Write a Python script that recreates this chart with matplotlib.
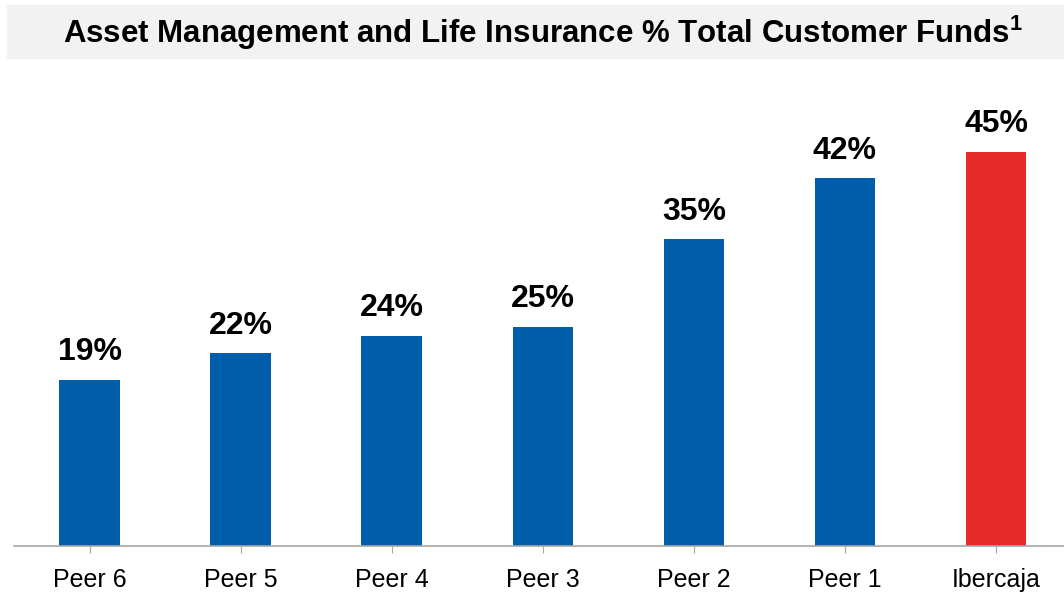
import matplotlib.pyplot as plt
from matplotlib.patches import Rectangle

plt.rcParams['font.family'] = ['Liberation Sans', 'DejaVu Sans']
plt.rcParams['mathtext.fontset'] = 'custom'
plt.rcParams['mathtext.bf'] = 'Liberation Sans:bold'

categories = ["Peer 6", "Peer 5", "Peer 4", "Peer 3", "Peer 2", "Peer 1", "Ibercaja"]
values = [19, 22, 24, 25, 35, 42, 45]
labels = ["19%", "22%", "24%", "25%", "35%", "42%", "45%"]
colors = ["#005DA9"] * 6 + ["#E52A29"]

W, H = 1064, 592
fig = plt.figure(figsize=(W / 100, H / 100), dpi=100)

# grey title band
fig.patches.append(Rectangle((7 / W, 1 - 58 / H), 1 - 7 / W, 53 / H,
                             transform=fig.transFigure, color="#F2F2F2", zorder=0))
fig.text(0.510, 1 - 33 / H, "Asset Management and Life Insurance % Total Customer Funds$^\\mathbf{1}$",
         ha="center", va="center", fontsize=22.5, fontweight="bold")

ax = fig.add_axes([14 / W, 1 - 546 / H, 1 - 14 / W, (546 - 100) / H])
x = range(len(categories))
bars = ax.bar(x, values, width=0.4, color=colors)
for xi, v, lab in zip(x, values, labels):
    ax.annotate(lab, (xi, v), xytext=(0, 9), textcoords="offset points",
                ha="center", va="bottom", fontsize=23, fontweight="bold")

ax.set_xlim(-0.5, 6.45)
ax.set_ylim(0, (546 - 100) / 8.76)
ax.set_xticks(list(x))
ax.set_xticklabels(categories, fontsize=18)
ax.tick_params(axis="x", length=5, color="#A6A6A6", pad=11)
ax.set_yticks([])
for s in ["top", "right", "left"]:
    ax.spines[s].set_visible(False)
ax.spines["bottom"].set_color("#A6A6A6")
ax.spines["bottom"].set_linewidth(1.2)
ax.patch.set_alpha(0)

fig.savefig("out.png", dpi=100)
